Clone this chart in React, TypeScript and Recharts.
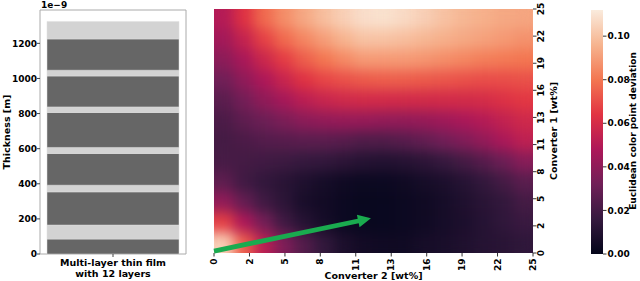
import React from "react";
import {
  Bar,
  BarChart,
  ReferenceArea,
  ReferenceLine,
  Scatter,
  ScatterChart,
  XAxis,
  YAxis,
} from "recharts";

const FONT = "'DejaVu Sans', Verdana, sans-serif";

// thin film, bottom to top, thickness in units of 1e-9 m
const layerThickness = [85, 80, 189, 38, 181, 34, 199, 32, 176, 33, 178, 100];
const layerLight = [false, true, false, true, false, true, false, true, false, true, false, true];
const filmLabel = "Multi-layer thin film\nwith 12 layers";
const thicknessTicks = [0, 200, 400, 600, 800, 1000, 1200];

// heatmap axes (converter 1 on y, converter 2 on x)
const convTicks = [0, 2.78, 5.56, 8.33, 11.11, 13.89, 16.67, 19.44, 22.22, 25];
const convTickLabels = ["0", "2", "5", "8", "11", "13", "16", "19", "22", "25"];

// euclidean color point deviation, rows from converter 1 = 25 (top) down to 0,
// columns from converter 2 = 0 to 25
const deviationRows = [
  [0.050, 0.063, 0.077, 0.086, 0.093, 0.099, 0.104, 0.108, 0.109, 0.107, 0.104, 0.100, 0.097, 0.095, 0.093, 0.092],
  [0.045, 0.055, 0.067, 0.077, 0.084, 0.090, 0.096, 0.100, 0.100, 0.099, 0.097, 0.095, 0.093, 0.091, 0.089, 0.087],
  [0.039, 0.047, 0.057, 0.066, 0.074, 0.080, 0.085, 0.089, 0.089, 0.089, 0.088, 0.086, 0.084, 0.082, 0.081, 0.080],
  [0.032, 0.040, 0.048, 0.056, 0.063, 0.068, 0.071, 0.073, 0.074, 0.074, 0.073, 0.072, 0.071, 0.070, 0.070, 0.071],
  [0.026, 0.033, 0.040, 0.046, 0.052, 0.056, 0.058, 0.059, 0.059, 0.059, 0.059, 0.059, 0.059, 0.060, 0.062, 0.065],
  [0.022, 0.027, 0.031, 0.035, 0.039, 0.041, 0.042, 0.042, 0.041, 0.041, 0.042, 0.044, 0.047, 0.050, 0.054, 0.058],
  [0.020, 0.022, 0.024, 0.025, 0.026, 0.026, 0.025, 0.023, 0.023, 0.025, 0.028, 0.032, 0.036, 0.041, 0.047, 0.053],
  [0.021, 0.020, 0.019, 0.018, 0.016, 0.015, 0.013, 0.011, 0.010, 0.011, 0.013, 0.016, 0.020, 0.025, 0.031, 0.038],
  [0.027, 0.019, 0.015, 0.012, 0.009, 0.006, 0.004, 0.003, 0.003, 0.004, 0.006, 0.008, 0.011, 0.015, 0.020, 0.026],
  [0.041, 0.029, 0.019, 0.013, 0.007, 0.005, 0.003, 0.002, 0.002, 0.003, 0.004, 0.006, 0.009, 0.012, 0.015, 0.020],
  [0.067, 0.048, 0.033, 0.019, 0.011, 0.006, 0.003, 0.002, 0.002, 0.003, 0.004, 0.006, 0.008, 0.011, 0.014, 0.017],
  [0.104, 0.074, 0.052, 0.036, 0.024, 0.015, 0.008, 0.005, 0.004, 0.004, 0.006, 0.007, 0.009, 0.011, 0.012, 0.014],
];

const arrowFrom = { x: 0, y: 0.2 };
const arrowTo = { x: 12.3, y: 3.55 };

const cbarMax = 0.112;
const cbarTicks = [0, 0.02, 0.04, 0.06, 0.08, 0.1];

// seaborn "rocket"
const rocketStops = ["#03051a", "#35193e", "#701f57", "#ad1759", "#e13342", "#f37651", "#f6b48f", "#faebdd"];

function hexRgb(h: string) {
  return [1, 3, 5].map((i) => parseInt(h.slice(i, i + 2), 16));
}

function rocket(t: number): string {
  const c = Math.min(1, Math.max(0, t)) * (rocketStops.length - 1);
  const i = Math.min(rocketStops.length - 2, Math.floor(c));
  const f = c - i;
  const a = hexRgb(rocketStops[i]);
  const b = hexRgb(rocketStops[i + 1]);
  const m = a.map((v, k) => Math.round(v + (b[k] - v) * f));
  return `rgb(${m[0]},${m[1]},${m[2]})`;
}

const tickStyle = { fill: "#000", fontSize: 9, fontWeight: "bold", fontFamily: FONT } as const;
const labelStyle = { fontSize: 9.5, fontWeight: "bold", fontFamily: FONT, fill: "#000" } as const;

const filmRow: Record<string, string | number> = { name: filmLabel };
layerThickness.forEach((t, i) => {
  filmRow[`l${i}`] = t;
});
const filmData = [filmRow];

const nRows = deviationRows.length;
const nCols = deviationRows[0].length;
const cells = deviationRows.flatMap((row, r) =>
  row.map((v, c) => ({
    x1: (c * 25) / nCols,
    x2: ((c + 1) * 25) / nCols,
    y1: 25 - ((r + 1) * 25) / nRows,
    y2: 25 - (r * 25) / nRows,
    v,
  })),
);
const cellCenters = cells.map((c) => ({ x: (c.x1 + c.x2) / 2, y: (c.y1 + c.y2) / 2 }));

function FilmTick(props: any) {
  const { x, y, payload } = props;
  const lines = String(payload.value).split("\n");
  return (
    <text x={x} y={y} textAnchor="middle" style={labelStyle}>
      {lines.map((l, i) => (
        <tspan key={i} x={x} dy={i === 0 ? "0.72em" : "1.2em"}>
          {l}
        </tspan>
      ))}
    </text>
  );
}

function BottomTick(props: any) {
  const { x, y, payload } = props;
  const label = convTickLabels[convTicks.indexOf(payload.value)];
  return (
    <text x={x} y={y} dy="0.35em" textAnchor="end" transform={`rotate(-90 ${x} ${y})`} style={tickStyle}>
      {label}
    </text>
  );
}

function RightTick(props: any) {
  const { x, y, payload } = props;
  const label = convTickLabels[convTicks.indexOf(payload.value)];
  return (
    <text x={x} y={y} dy="0.72em" textAnchor="middle" transform={`rotate(-90 ${x} ${y})`} style={tickStyle}>
      {label}
    </text>
  );
}

function ArrowShape(props: any) {
  const { x1, y1, x2, y2 } = props;
  const dx = x2 - x1;
  const dy = y2 - y1;
  const len = Math.hypot(dx, dy) || 1;
  const ux = dx / len;
  const uy = dy / len;
  const nx = -uy;
  const ny = ux;
  const hw = 2.4;
  const headW = 6.5;
  const headL = 13;
  const bx = x2 - ux * headL;
  const by = y2 - uy * headL;
  const pts = [
    [x1 + nx * hw, y1 + ny * hw],
    [bx + nx * hw, by + ny * hw],
    [bx + nx * headW, by + ny * headW],
    [x2, y2],
    [bx - nx * headW, by - ny * headW],
    [bx - nx * hw, by - ny * hw],
    [x1 - nx * hw, y1 - ny * hw],
  ];
  return <polygon points={pts.map((p) => p.join(",")).join(" ")} fill="#1aab4f" />;
}

const noPoint = () => <g />;

export default function App() {
  return (
    <div style={{ position: "absolute", left: 0, top: 0, width: 640, height: 281, background: "#fff", overflow: "hidden" }}>
      <svg width={0} height={0} style={{ position: "absolute" }}>
        <defs>
          <filter id="heat-smooth" x="-10%" y="-10%" width="120%" height="120%" colorInterpolationFilters="sRGB">
            <feGaussianBlur stdDeviation={6.5} />
            <feComponentTransfer>
              <feFuncA type="linear" slope={20} intercept={0} />
            </feComponentTransfer>
          </filter>
          <linearGradient id="rocket-v" x1="0" y1="1" x2="0" y2="0">
            {rocketStops.map((c, i) => (
              <stop key={i} offset={i / (rocketStops.length - 1)} stopColor={c} />
            ))}
          </linearGradient>
        </defs>
      </svg>

      {/* thin film stack */}
      <div style={{ position: "absolute", left: 0, top: 0 }}>
        <BarChart width={190} height={281} data={filmData} margin={{ top: 10, right: 4, bottom: 0, left: 0 }} barCategoryGap={7}>
          <XAxis dataKey="name" height={27} axisLine={false} tickSize={3} tickLine={{ stroke: "#444" }} tick={<FilmTick />} interval={0} />
          <YAxis
            width={40}
            domain={[0, 1390]}
            ticks={thicknessTicks}
            axisLine={false}
            tickSize={3}
            tickMargin={0}
            tickLine={{ stroke: "#444" }}
            tick={tickStyle}
          />
          {layerThickness.map((_, i) => (
            <Bar
              key={i}
              dataKey={`l${i}`}
              stackId="film"
              fill={layerLight[i] ? "#d3d3d3" : "#666666"}
              stroke="#dcdcdc"
              strokeWidth={0.5}
              isAnimationActive={false}
            />
          ))}
          <ReferenceArea y1={0} y2={1390} fill="none" fillOpacity={0} stroke="#aaaaaa" ifOverflow="visible" />
        </BarChart>
      </div>

      {/* heatmap cells, smoothed */}
      <div style={{ position: "absolute", left: 214, top: 9, width: 319, height: 244, overflow: "hidden" }}>
        <div style={{ filter: "url(#heat-smooth)" }}>
          <ScatterChart width={319} height={244} margin={{ top: 0, right: 0, bottom: 0, left: 0 }}>
            <XAxis type="number" dataKey="x" domain={[0, 25]} hide />
            <YAxis type="number" dataKey="y" domain={[0, 25]} hide />
            <Scatter data={cellCenters} shape={noPoint} isAnimationActive={false} />
            {cells.map((c, i) => (
              <ReferenceArea
                key={i}
                x1={c.x1}
                x2={c.x2}
                y1={c.y1}
                y2={c.y2}
                fill={rocket(c.v / cbarMax)}
                fillOpacity={1}
                stroke="none"
                ifOverflow="visible"
              />
            ))}
          </ScatterChart>
        </div>
      </div>

      {/* heatmap axes and arrow */}
      <div style={{ position: "absolute", left: 200, top: 0 }}>
        <ScatterChart width={370} height={281} margin={{ top: 9, right: 0, bottom: 0, left: 14 }}>
          <XAxis
            type="number"
            dataKey="x"
            domain={[0, 25]}
            ticks={convTicks}
            interval={0}
            height={28}
            axisLine={false}
            tickSize={3.5}
            tickLine={{ stroke: "#333" }}
            tick={<BottomTick />}
          />
          <YAxis
            type="number"
            dataKey="y"
            orientation="right"
            domain={[0, 25]}
            ticks={convTicks}
            interval={0}
            width={37}
            axisLine={false}
            tickSize={3.5}
            tickMargin={1}
            tickLine={{ stroke: "#333" }}
            tick={<RightTick />}
          />
          <Scatter data={[arrowFrom, arrowTo]} shape={noPoint} isAnimationActive={false} />
          <ReferenceLine segment={[arrowFrom, arrowTo]} shape={ArrowShape} ifOverflow="visible" />
        </ScatterChart>
      </div>

      {/* colorbar */}
      <div style={{ position: "absolute", left: 560, top: 0 }}>
        <BarChart
          width={80}
          height={281}
          data={[{ name: "cbar", v: cbarMax }]}
          margin={{ top: 10, right: 0, bottom: 27, left: 31 }}
          barCategoryGap={0}
        >
          <XAxis dataKey="name" hide />
          <YAxis
            orientation="right"
            domain={[0, cbarMax]}
            ticks={cbarTicks}
            width={37}
            axisLine={false}
            tickSize={3.5}
            tickMargin={1}
            tickLine={{ stroke: "#333" }}
            tickFormatter={(v: number) => v.toFixed(2)}
            tick={tickStyle}
          />
          <Bar dataKey="v" fill="url(#rocket-v)" isAnimationActive={false} />
        </BarChart>
      </div>

      {/* axis titles */}
      <svg width={640} height={281} style={{ position: "absolute", left: 0, top: 0, pointerEvents: "none" }}>
        <text x={41} y={8} style={tickStyle}>
          1e−9
        </text>
        <text x={9.5} y={132} textAnchor="middle" transform="rotate(-90 9.5 132)" style={labelStyle}>
          Thickness [m]
        </text>
        <text x={373.5} y={279} textAnchor="middle" style={labelStyle}>
          Converter 2 [wt%]
        </text>
        <text x={557} y={131} textAnchor="middle" transform="rotate(-90 557 131)" style={labelStyle}>
          Converter 1 [wt%]
        </text>
        <text x={636} y={131} textAnchor="middle" transform="rotate(-90 636 131)" style={{ ...labelStyle, fontSize: 9 }}>
          Euclidean color point deviation
        </text>
      </svg>
    </div>
  );
}
